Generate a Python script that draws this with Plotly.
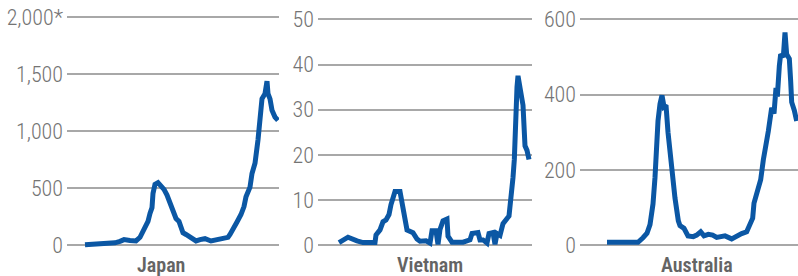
import plotly.graph_objects as go

# ---------------- data (day index since start of series, value) ----------------
japan_days = [0, 30, 60, 90, 105, 117, 135, 153, 165, 180, 189, 195, 201, 204, 210,
              219, 228, 237, 246, 255, 261, 267, 273, 282, 288, 294, 303, 312, 321,
              333, 345, 360, 378, 399, 411, 429, 435, 444, 456, 468, 477, 483, 489,
              495, 501, 510, 519, 525, 531, 540, 546, 549, 555, 561, 570, 579]
japan_vals = [5, 8, 12, 22, 35, 50, 42, 38, 70, 145, 210, 280, 330, 455, 535,
              550, 520, 490, 440, 370, 330, 265, 235, 210, 150, 110, 95, 75, 55,
              38, 50, 58, 38, 55, 62, 70, 95, 150, 205, 270, 340, 425, 470,
              510, 630, 720, 925, 1155, 1285, 1330, 1440, 1330, 1285, 1185, 1125, 1095]

vietnam_days = [0, 27, 54, 72, 108, 111, 123, 132, 141, 150, 156, 168, 183, 189, 195,
                204, 222, 234, 243, 261, 273, 279, 291, 297, 303, 312, 324, 327, 339,
                372, 393, 399, 417, 423, 432, 444, 450, 462, 468, 474, 483, 492, 510,
                516, 522, 526, 529, 534, 537, 543, 552, 558, 564, 570]
vietnam_vals = [0.6, 1.8, 1.0, 0.6, 0.6, 2.3, 3.4, 5.2, 5.6, 6.8, 9.0, 11.9, 11.9, 9.3, 6.0,
                3.4, 2.8, 1.4, 0.9, 1.0, 0.5, 3.2, 3.2, 0.2, 3.5, 5.4, 5.8, 2.0, 0.7,
                0.7, 1.2, 2.6, 2.8, 1.2, 1.2, 0.5, 2.6, 2.8, 0.2, 2.6, 2.2, 4.8, 6.5,
                10, 15, 19, 28, 35, 37.5, 35, 31, 22, 21, 19]

australia_days = [0, 93, 108, 120, 129, 138, 144, 148, 153, 159, 165, 171, 177, 183,
                  194, 204, 214, 219, 231, 243, 259, 269, 281, 291, 304, 317, 329, 354,
                  374, 389, 404, 419, 429, 437, 441, 449, 461, 469, 477, 484, 494, 501,
                  507, 511, 517, 521, 529, 534, 539, 547, 551, 554, 562, 569]
australia_vals = [8, 8, 20, 32, 55, 110, 180, 250, 330, 375, 398, 368, 372, 300,
                  192, 125, 65, 52, 45, 25, 23, 27, 36, 25, 29, 27, 21, 25,
                  17, 25, 31, 36, 54, 72, 112, 134, 174, 227, 280, 303, 365, 350,
                  418, 395, 476, 507, 500, 565, 507, 495, 436, 380, 358, 330]

countries = ["Japan", "Vietnam", "Australia"]
japan_ticks = [0, 500, 1000, 1500, 2000]
japan_ticktext = ["0", "500", "1,000", "1,500", "2,000*"]
vietnam_ticks = [0, 10, 20, 30, 40, 50]
australia_ticks = [0, 200, 400, 600]

# ---------------- styling / layout ----------------
W, H = 798, 276
LINE = "#0b57a4"
GRID = "#a8a8a8"
TICKC = "#747474"
FONT = "Roboto Condensed, Liberation Sans Narrow, sans-serif"

def px(x):
    return x / W

def py(y):
    return 1 - y / H

# plot area spans these pixel rows; value 0 sits at ZERO_PX, top tick at its own pixel row
DOM_BOT, DOM_TOP, ZERO_PX = 250.0, 12.0, 245.3

def yrange(top_value, top_px):
    scale = (ZERO_PX - top_px) / top_value
    return [-(DOM_BOT - ZERO_PX) / scale, top_value + (top_px - DOM_TOP) / scale]

ydom = [py(DOM_BOT), py(DOM_TOP)]

fig = go.Figure()
series = [(japan_days, japan_vals), (vietnam_days, vietnam_vals), (australia_days, australia_vals)]
for i, (d, v) in enumerate(series):
    fig.add_trace(go.Scatter(
        x=d, y=v, mode="lines",
        line=dict(color=LINE, width=5, shape="linear"),
        xaxis="x" if i == 0 else f"x{i+1}",
        yaxis="y" if i == 0 else f"y{i+1}",
        showlegend=False, hoverinfo="skip",
    ))

xdoms = [[px(67), px(279)], [px(318), px(532)], [px(580), px(798)]]
xranges = [[-54, 582], [-63, 579], [-81, 573]]
ycfg = [
    dict(range=yrange(2000, 17.3), tickvals=japan_ticks, ticktext=japan_ticktext),
    dict(range=yrange(50, 19.3), tickvals=vietnam_ticks, ticktext=[str(t) for t in vietnam_ticks]),
    dict(range=yrange(600, 19.3), tickvals=australia_ticks, ticktext=[str(t) for t in australia_ticks]),
]

layout = dict(
    width=W, height=H,
    margin=dict(l=0, r=0, t=0, b=0),
    paper_bgcolor="white", plot_bgcolor="white",
    font=dict(family=FONT, color=TICKC),
)
for i in range(3):
    sx = "" if i == 0 else str(i + 1)
    layout[f"xaxis{sx}"] = dict(
        domain=xdoms[i], range=xranges[i], showgrid=False, zeroline=False,
        showticklabels=False, showline=False, fixedrange=True, automargin=False,
        anchor="y" if i == 0 else f"y{i+1}",
    )
    layout[f"yaxis{sx}"] = dict(
        domain=ydom, range=ycfg[i]["range"], tickmode="array",
        tickvals=ycfg[i]["tickvals"], ticktext=ycfg[i]["ticktext"],
        showgrid=True, gridcolor=GRID, gridwidth=2,
        zeroline=False, showline=False, ticks="", automargin=False,
        tickfont=dict(family=FONT, size=22, color=TICKC, weight=300),
        ticklabelstandoff=3, fixedrange=True,
        anchor="x" if i == 0 else f"x{i+1}",
    )

fig.update_layout(**layout)

label_x = [161, 430, 697]
for name, lx in zip(countries, label_x):
    fig.add_annotation(
        x=px(lx), y=py(265), xref="paper", yref="paper",
        text=name, showarrow=False, xanchor="center", yanchor="middle",
        font=dict(family=FONT, size=20, color="#646464", weight=600),
    )

fig.write_html("out.html", config={"displayModeBar": False},
               post_script="document.body.style.margin='0';document.body.style.overflow='hidden';")
